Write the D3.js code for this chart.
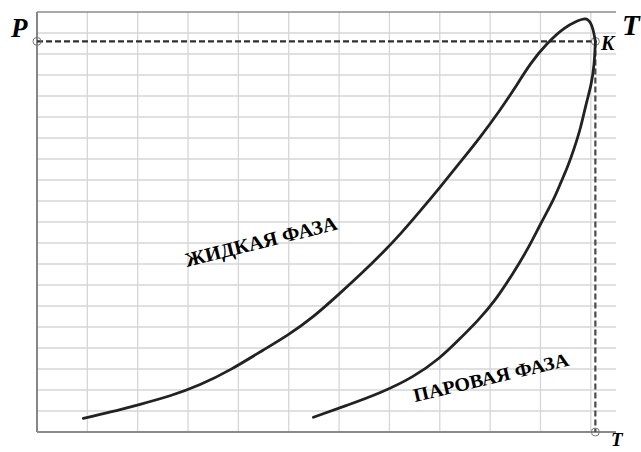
<!DOCTYPE html>
<html>
<head>
<meta charset="utf-8">
<script src="https://cdn.jsdelivr.net/npm/d3@7"></script>
<style>
  html,body{margin:0;padding:0;background:#fff;overflow:hidden}
  svg{display:block}
  .lbl{font-family:"Liberation Serif","Times New Roman",Tinos,serif;font-weight:bold;fill:#000}
</style>
</head>
<body>
<div id="chart"></div>
<script>
// grid units: T along columns, P along rows
const liquidT=[0.92,1.45,2.05,2.64,3.24,3.84,4.49,4.99,5.49,6.02,6.48,6.92,7.22,7.61,8.01,8.41,8.81,9.20,9.46,9.80,10.14,10.46,10.74,10.90,10.99,11.05,11.09];
const liquidP=[0.65,0.94,1.32,1.70,2.23,2.94,3.90,4.61,5.47,6.61,7.62,8.67,9.43,10.52,11.67,12.86,14.05,15.34,16.25,17.58,18.54,19.25,19.59,19.73,19.54,19.16,18.60];
const vaporT=[11.09,11.07,11.01,10.90,10.80,10.66,10.54,10.40,10.26,10.00,9.74,9.46,9.11,8.77,8.37,8.01,7.48,6.82,6.16,5.49];
const vaporP=[18.60,17.49,16.53,15.58,14.48,13.43,12.62,11.86,11.05,9.91,8.67,7.57,6.28,5.33,4.37,3.52,2.61,1.85,1.27,0.70];
const critical=[11.09,18.60];   // K
const tGrid=[1,2,3,4,5,6,7,8,9,10,11];
const pGrid=[1,2,3,4,5,6,7,8,9,10,11,12,13,14,15,16,17,18,19];

(function(){
  const W=641,H=452;
  const m={left:37,top:12,right:616,bottom:432};
  const svg=d3.select("#chart").append("svg").attr("width",W).attr("height",H);
  const x=d3.scaleLinear().domain([0,11.5]).range([m.left,m.right]);
  const y=d3.scaleLinear().domain([0,20]).range([m.bottom,m.top]);

  // grid
  svg.append("g").selectAll("line").data(tGrid).join("line")
    .attr("x1",d=>x(d)).attr("x2",d=>x(d))
    .attr("y1",y(20)).attr("y2",y(0))
    .attr("stroke","#d6d6d6").attr("stroke-width",1.3);
  svg.append("g").selectAll("line").data(pGrid).join("line")
    .attr("x1",x(0)).attr("x2",x(11.5))
    .attr("y1",d=>y(d)).attr("y2",d=>y(d))
    .attr("stroke","#d6d6d6").attr("stroke-width",1.3);

  // frame: top, left, bottom
  svg.append("line").attr("x1",x(0)).attr("x2",x(11.5)).attr("y1",y(20)).attr("y2",y(20))
    .attr("stroke","#8c8c8c").attr("stroke-width",1.5);
  svg.append("line").attr("x1",x(0)).attr("x2",x(0)).attr("y1",y(20)).attr("y2",y(0))
    .attr("stroke","#7a7a7a").attr("stroke-width",1.8);
  svg.append("line").attr("x1",x(0)).attr("x2",x(11.5)).attr("y1",y(0)).attr("y2",y(0))
    .attr("stroke","#8a8a8a").attr("stroke-width",2);

  // dashed guides to K
  svg.append("line").attr("x1",x(0)).attr("x2",x(critical[0]))
    .attr("y1",y(critical[1])).attr("y2",y(critical[1]))
    .attr("stroke","#303030").attr("stroke-width",2.2).attr("stroke-dasharray","6 3");
  svg.append("line").attr("x1",x(critical[0])).attr("x2",x(critical[0]))
    .attr("y1",y(critical[1])).attr("y2",y(0))
    .attr("stroke","#4a4a4a").attr("stroke-width",2.2).attr("stroke-dasharray","6 3");
  svg.selectAll(".pt").data([[0,critical[1]],critical,[critical[0],0]]).join("circle")
    .attr("cx",d=>x(d[0])).attr("cy",d=>y(d[1])).attr("r",4)
    .attr("fill","none").attr("stroke","#777").attr("stroke-width",1);

  // phase curves
  const line=d3.line().x(d=>x(d[0])).y(d=>y(d[1])).curve(d3.curveBasis);
  [[liquidT,liquidP],[vaporT,vaporP]].forEach(([t,p])=>{
    svg.append("path").datum(t.map((v,i)=>[v,p[i]]))
      .attr("d",line).attr("fill","none")
      .attr("stroke","#222").attr("stroke-width",2.8).attr("stroke-linejoin","round").attr("stroke-linecap","round");
  });

  // labels
  svg.append("text").attr("class","lbl").attr("x",11).attr("y",37)
    .attr("font-size",27).attr("font-style","italic").text("P");
  svg.append("text").attr("class","lbl").attr("x",622).attr("y",35)
    .attr("font-size",29).attr("font-style","italic").text("T");
  svg.append("text").attr("class","lbl").attr("x",601).attr("y",50)
    .attr("font-size",20).attr("font-style","italic").text("K");
  svg.append("text").attr("class","lbl").attr("x",611).attr("y",446)
    .attr("font-size",19).attr("font-style","italic").text("T");

  svg.append("text").attr("class","lbl")
    .attr("transform",`translate(187,267) rotate(-14)`)
    .attr("font-size",20).attr("textLength",156).attr("lengthAdjust","spacingAndGlyphs")
    .text("ЖИДКАЯ ФАЗА");
  svg.append("text").attr("class","lbl")
    .attr("transform",`translate(415,402) rotate(-13.3)`)
    .attr("font-size",19).attr("textLength",159).attr("lengthAdjust","spacingAndGlyphs")
    .text("ПАРОВАЯ ФАЗА");
})();
</script>
</body>
</html>
